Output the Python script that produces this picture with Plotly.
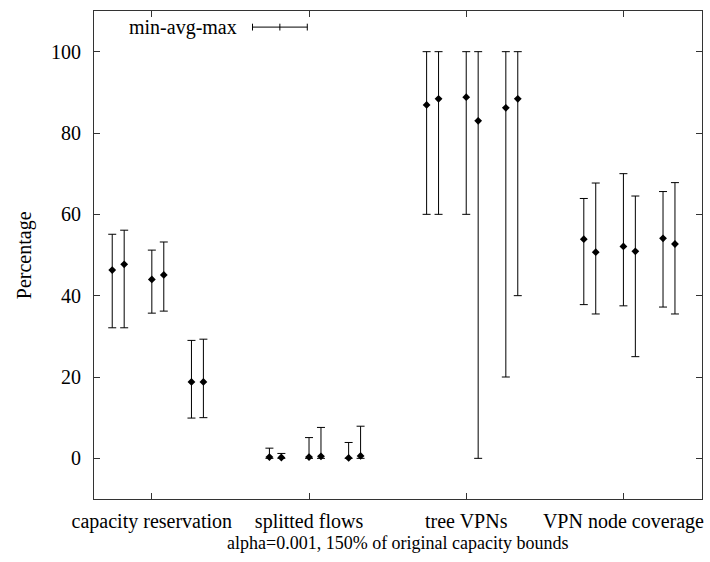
import plotly.graph_objects as go

categories = ["capacity reservation", "splitted flows", "tree VPNs", "VPN node coverage"]

# six series (min / avg / max per category)
avg_vals = [
    [46.3, 0.3, 86.9, 53.9],
    [47.7, 0.2, 88.4, 50.7],
    [44.0, 0.3, 88.8, 52.1],
    [45.1, 0.5, 83.0, 50.9],
    [18.8, 0.1, 86.2, 54.1],
    [18.8, 0.6, 88.4, 52.7],
]
min_vals = [
    [32.1, 0.0, 60.0, 37.8],
    [32.1, 0.0, 60.0, 35.5],
    [35.7, 0.0, 60.0, 37.5],
    [36.2, 0.0, 0.0, 25.0],
    [9.9, 0.0, 20.0, 37.2],
    [10.0, 0.0, 40.0, 35.5],
]
max_vals = [
    [55.1, 2.5, 100.0, 63.9],
    [56.1, 1.2, 100.0, 67.7],
    [51.2, 5.1, 100.0, 70.0],
    [53.2, 7.6, 100.0, 64.5],
    [29.0, 3.9, 100.0, 65.6],
    [29.3, 7.9, 100.0, 67.8],
]
y_ticks = [0, 20, 40, 60, 80, 100]

offsets = [-0.252, -0.176, 0.0, 0.076, 0.252, 0.328]

FONT = "Liberation Serif"
FS = 20
fig = go.Figure()
for s in range(6):
    xs = [i + 1 + offsets[s] for i in range(len(categories))]
    ys = avg_vals[s]
    plus = [mx - a for mx, a in zip(max_vals[s], ys)]
    minus = [a - mn for mn, a in zip(min_vals[s], ys)]
    fig.add_trace(go.Scatter(
        x=xs, y=ys, mode="markers",
        marker=dict(symbol="diamond", size=6, color="black"),
        error_y=dict(type="data", symmetric=False, array=plus, arrayminus=minus,
                     color="black", thickness=1, width=4),
        showlegend=False, hoverinfo="skip",
    ))

fig.update_layout(
    width=710, height=562,
    margin=dict(l=94, r=6, t=11, b=63),
    paper_bgcolor="white", plot_bgcolor="white",
    font=dict(family=FONT, size=FS, color="black"),
    xaxis=dict(range=[0.632, 4.5], tickvals=[1, 2, 3, 4], ticktext=categories,
               ticks="inside", ticklen=6, tickcolor="#333", mirror="ticks",
               showline=True, linecolor="#333", linewidth=1, showgrid=False,
               zeroline=False, tickfont=dict(size=FS), ticklabelstandoff=4),
    yaxis=dict(range=[-10, 110], tickvals=y_ticks,
               ticks="inside", ticklen=6, tickcolor="#333", mirror="ticks",
               showline=True, linecolor="#333", linewidth=1, showgrid=False,
               zeroline=False, tickfont=dict(size=FS), ticklabelstandoff=8),
)

fig.add_annotation(text="Percentage", xref="paper", yref="paper", x=-0.1148, y=0.5,
                   textangle=-90, showarrow=False, font=dict(size=FS),
                   xanchor="center", yanchor="middle")
fig.add_annotation(text="alpha=0.001, 150% of original capacity bounds", xref="paper",
                   yref="paper", x=0.5, y=-0.09, showarrow=False, font=dict(size=18),
                   xanchor="center", yanchor="middle")

# key
ly = 0.967
fig.add_annotation(text="min-avg-max", xref="paper", yref="paper", x=0.239, y=ly,
                   showarrow=False, font=dict(size=FS), xanchor="right", yanchor="middle")
lx0, lx1, lxm = 0.2607, 0.3508, 0.3057
fig.add_shape(type="line", xref="paper", yref="paper", x0=lx0, x1=lx1, y0=ly, y1=ly,
              line=dict(color="black", width=1))
for xx in (lx0, lxm, lx1):
    fig.add_shape(type="line", xref="paper", yref="paper", x0=xx, x1=xx,
                  y0=ly - 0.007, y1=ly + 0.007, line=dict(color="black", width=1))

fig.write_html("out.html")
